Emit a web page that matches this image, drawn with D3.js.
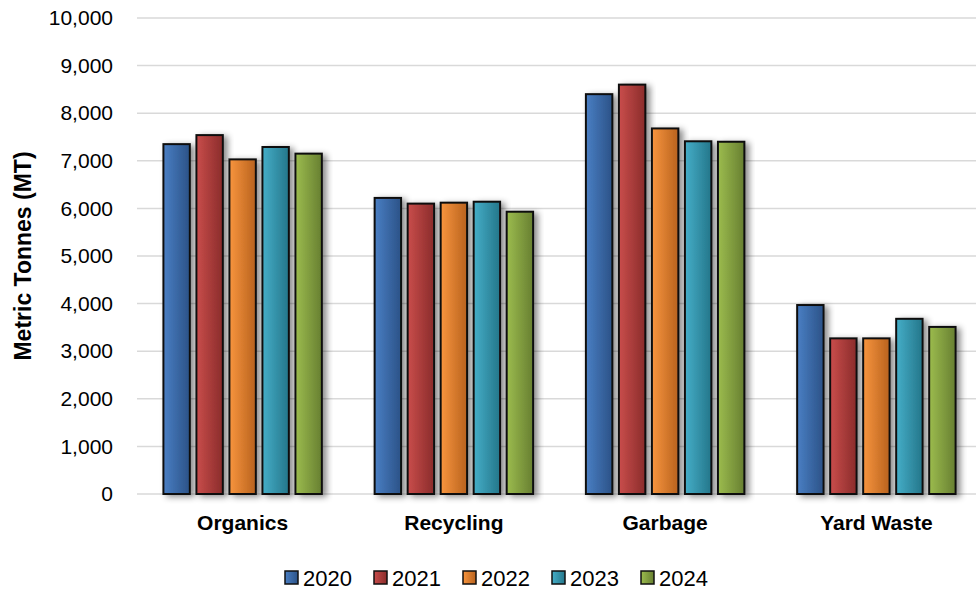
<!DOCTYPE html>
<html>
<head>
<meta charset="utf-8">
<script src="https://cdn.jsdelivr.net/npm/d3@7"></script>
<style>
  body { margin: 0; background: #fff; }
  text { font-family: "Liberation Sans", Arial, sans-serif; }
</style>
</head>
<body>
<script>
const w = 976;
const h = 590;

// data
const categories = ["Organics", "Recycling", "Garbage", "Yard Waste"];
const years = ["2020", "2021", "2022", "2023", "2024"];
const values2020 = [7350, 6220, 8400, 3970];
const values2021 = [7540, 6100, 8600, 3270];
const values2022 = [7030, 6120, 7680, 3270];
const values2023 = [7290, 6140, 7410, 3680];
const values2024 = [7150, 5930, 7400, 3510];
const yTicks = [0, 1000, 2000, 3000, 4000, 5000, 6000, 7000, 8000, 9000, 10000];

const series = [values2020, values2021, values2022, values2023, values2024];

// light / dark ends of each bar gradient
const colours = [
  ["#4a7fc4", "#2b5287"],
  ["#c94d4b", "#8a2c2b"],
  ["#f8953e", "#b8621e"],
  ["#45aec8", "#24768a"],
  ["#9cbc4e", "#677f31"]
];

const margin = {top: 18, right: -6, bottom: 96, left: 137};

const svg = d3.select("body")
              .append("svg")
              .attr("width", w)
              .attr("height", h);

const defs = svg.append("defs");

colours.forEach(function(c, i) {
  let g = defs.append("linearGradient")
              .attr("id", "grad" + i)
              .attr("x1", "0%").attr("x2", "100%")
              .attr("y1", "0%").attr("y2", "0%");
  g.append("stop").attr("offset", "0%").attr("stop-color", c[0]);
  g.append("stop").attr("offset", "100%").attr("stop-color", c[1]);
});

const shadow = defs.append("filter")
                   .attr("id", "shadow")
                   .attr("x", "-20%").attr("y", "-10%")
                   .attr("width", "160%").attr("height", "130%");
shadow.append("feDropShadow")
      .attr("dx", 4).attr("dy", 2)
      .attr("stdDeviation", 3)
      .attr("flood-color", "#000")
      .attr("flood-opacity", 0.45);

const x0 = d3.scaleBand()
             .domain(categories)
             .range([margin.left, w - margin.right])
             .paddingInner(0)
             .paddingOuter(0);

const x1 = d3.scaleBand()
             .domain(years)
             .range([0, x0.bandwidth()])
             .paddingInner(0.2)
             .paddingOuter(0.8);

const y = d3.scaleLinear()
            .domain([0, 10000])
            .range([h - margin.bottom, margin.top]);

// gridlines
svg.append("g")
   .selectAll("line")
   .data(yTicks)
   .enter()
   .append("line")
   .attr("x1", margin.left)
   .attr("x2", w)
   .attr("y1", d => y(d))
   .attr("y2", d => y(d))
   .attr("stroke", "#d9d9d9")
   .attr("stroke-width", 1.5);

// y axis labels
const yAxis = d3.axisLeft(y)
                .tickValues(yTicks)
                .tickFormat(d3.format(","))
                .tickSize(0)
                .tickPadding(24);

svg.append("g")
   .attr("transform", "translate(" + margin.left + ",0)")
   .call(yAxis)
   .call(g => g.select(".domain").remove())
   .selectAll("text")
   .attr("font-size", "21px")
   .attr("fill", "#000")
   .style("font-family", "\"Liberation Sans\", Arial, sans-serif");

// x axis labels
const xAxis = d3.axisBottom(x0).tickSize(0).tickPadding(21);

svg.append("g")
   .attr("transform", "translate(0," + y(0) + ")")
   .call(xAxis)
   .call(g => g.select(".domain").remove())
   .selectAll("text")
   .attr("font-size", "21px")
   .attr("font-weight", "bold")
   .attr("fill", "#000")
   .style("font-family", "\"Liberation Sans\", Arial, sans-serif");

// bars
const groups = svg.append("g")
                  .selectAll("g")
                  .data(categories)
                  .enter()
                  .append("g")
                  .attr("transform", d => "translate(" + x0(d) + ",0)");

groups.selectAll("rect")
      .data((c, ci) => years.map((yr, si) => ({year: yr, idx: si, value: series[si][ci]})))
      .enter()
      .append("rect")
      .attr("x", d => x1(d.year))
      .attr("y", d => y(d.value))
      .attr("width", x1.bandwidth())
      .attr("height", d => y(0) - y(d.value))
      .attr("fill", d => "url(#grad" + d.idx + ")")
      .attr("stroke", "#111")
      .attr("stroke-width", 2)
      .attr("filter", "url(#shadow)");

// y title
svg.append("text")
   .attr("transform", "translate(31," + ((margin.top + y(0)) / 2) + ") rotate(-90)")
   .attr("text-anchor", "middle")
   .attr("font-size", "23px")
   .attr("font-weight", "bold")
   .text("Metric Tonnes (MT)");

// legend
const legend = svg.append("g")
                  .selectAll("g")
                  .data(years)
                  .enter()
                  .append("g")
                  .attr("transform", (d, i) => "translate(" + (285 + i * 89) + ",578)");

legend.append("rect")
      .attr("x", 0)
      .attr("y", -7)
      .attr("width", 13)
      .attr("height", 13)
      .attr("fill", (d, i) => "url(#grad" + i + ")")
      .attr("stroke", "#111")
      .attr("stroke-width", 1.5);

legend.append("text")
      .attr("x", 18)
      .attr("y", 8)
      .attr("font-size", "22px")
      .text(d => d);
</script>
</body>
</html>
